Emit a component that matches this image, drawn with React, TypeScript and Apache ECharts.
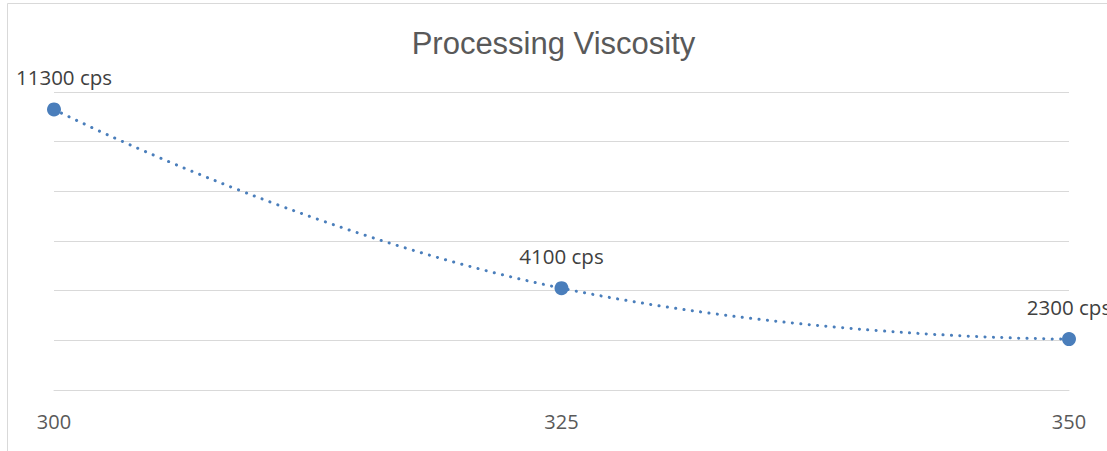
import React, { useEffect, useRef } from "react";
import * as echarts from "echarts";

const temperatures = [300, 325, 350];
const viscosity = [11300, 4100, 2050];
const pointLabels = ["11300 cps", "4100 cps", "2300 cps"];
const xTicks = [300, 325, 350];
const title = "Processing Viscosity";

export default function App() {
  const ref = useRef<HTMLDivElement>(null);
  useEffect(() => {
    if (!ref.current) return;
    const chart = echarts.init(ref.current, undefined, { renderer: "svg" });
    chart.setOption({
      animation: false,
      backgroundColor: "#ffffff",
      title: {
        text: title,
        left: "center",
        top: 23,
        textStyle: {
          fontFamily: "Liberation Sans",
          fontSize: 31,
          fontWeight: "normal",
          color: "#595959",
        },
      },
      graphic: [
        {
          type: "rect",
          shape: { x: 7.5, y: 3.5, width: 1150, height: 500 },
          style: { fill: "none", stroke: "#d9d9d9", lineWidth: 1 },
          silent: true,
        },
      ],
      grid: { left: 54, right: 38, top: 92, bottom: 61 },
      xAxis: {
        type: "value",
        min: xTicks[0],
        max: xTicks[xTicks.length - 1],
        interval: 25,
        axisLine: { show: true, lineStyle: { color: "#d9d9d9", width: 1 } },
        axisTick: { show: false },
        splitLine: { show: false },
        axisLabel: {
          margin: 21,
          fontFamily: "Open Sans",
          fontSize: 20,
          color: "#595959",
        },
      },
      yAxis: {
        type: "value",
        min: 0,
        max: 12000,
        interval: 2000,
        axisLine: { show: false },
        axisTick: { show: false },
        axisLabel: { show: false },
        splitLine: { show: true, lineStyle: { color: "#d9d9d9", width: 1 } },
      },
      series: [
        {
          type: "line",
          data: temperatures.map((t, i) => ({
            value: [t, viscosity[i]],
            label: i === 0 ? { offset: [10, 0] } : undefined,
          })),
          smooth: 0.5,
          symbol: "circle",
          symbolSize: 14,
          itemStyle: { color: "#4a7ebb" },
          lineStyle: {
            color: "#4a7ebb",
            width: 3,
            type: [0.1, 8.3],
            cap: "round",
          },
          label: {
            show: true,
            position: "top",
            distance: 15,
            fontFamily: "Open Sans",
            fontSize: 20.5,
            color: "#404040",
            formatter: (p: any) => pointLabels[p.dataIndex],
          },
        },
      ],
    });
    return () => chart.dispose();
  }, []);
  return (
    <div
      ref={ref}
      style={{ position: "fixed", left: 0, top: 0, width: 1107, height: 451 }}
    />
  );
}
